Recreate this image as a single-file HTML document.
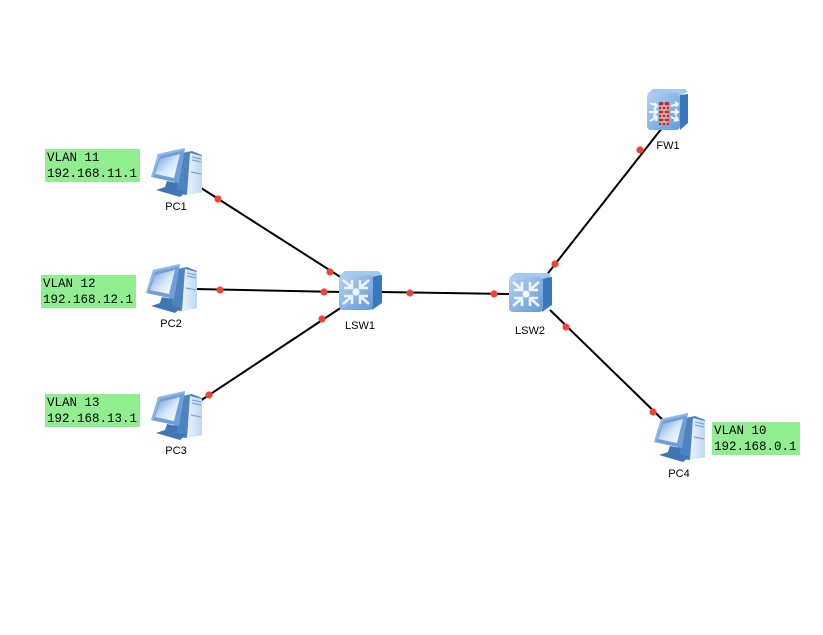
<!DOCTYPE html>
<html>
<head>
<meta charset="utf-8">
<style>
html,body{margin:0;padding:0;background:#fff;width:823px;height:635px;overflow:hidden}
svg{display:block}
.n{font:11px "Liberation Sans",sans-serif;fill:#000;text-anchor:middle}
.v{font:12.5px "Liberation Mono","DejaVu Sans Mono",monospace;fill:#000}
</style>
</head>
<body>
<svg width="823" height="635" viewBox="0 0 823 635" xmlns="http://www.w3.org/2000/svg">
<defs>
<linearGradient id="f" x1="0" y1="0" x2="1" y2="1"><stop offset="0" stop-color="#b4d2f2"/><stop offset="1" stop-color="#6299db"/></linearGradient>
<linearGradient id="sc" x1="0" y1="0" x2="1" y2="1"><stop offset="0" stop-color="#5f9ad8"/><stop offset=".55" stop-color="#d8e8f7"/><stop offset="1" stop-color="#f8fbfe"/></linearGradient>
<linearGradient id="tw" x1="0" y1="0" x2="1" y2="0"><stop offset="0" stop-color="#eaf3fc"/><stop offset="1" stop-color="#bfd8f1"/></linearGradient>
<symbol id="pc" viewBox="0 0 52 50" width="52" height="50" overflow="visible">
<path d="M27 7 L42 4 L52 8 L52 45 L35 48 L24 44Z" fill="#4f83bf"/>
<path d="M40 6 L52 9 L52 45 L37 48Z" fill="url(#tw)"/>
<path d="M42 10 L51 12 M42 13 L51 15 M41 25 L51 27" stroke="#7ea8d6" stroke-width="1.3" fill="none"/>
<path d="M8 7 L35 1 L29 36 L1 30Z" fill="#6f9fd8"/>
<path d="M8 7 L35 1 L35 3 L10 9 L3 30 L1 30Z" fill="#8fb8e4"/>
<path d="M10 12 L30 7 L24 31 L5 27Z" fill="url(#sc)"/>
<path d="M17 34 L27 36 L27 42 L36 45 L30 50 L6 43 L15 40Z" fill="#3f76b4"/>
</symbol>
<symbol id="sw" viewBox="0 0 43 39" width="43" height="39" overflow="visible">
<path d="M33 39 L43 32 L43 4 L33 5Z" fill="#3a78bd"/>
<path d="M0 5 L6 0 L39 0 L43 3 L34 6Z" fill="#a3c9ef"/>
<rect x="0" y="4" width="34" height="35" rx="4" fill="url(#f)"/>
<circle cx="17" cy="21" r="3.6" fill="#f4f9fe"/>
<g stroke="#eef5fc" stroke-width="2.6" fill="none">
<path d="M4 9 L12 16 M13 9 L13 17 L5 17"/>
<path d="M30 9 L22 16 M21 9 L21 17 L29 17"/>
<path d="M4 33 L12 26 M13 33 L13 25 L5 25"/>
<path d="M30 33 L22 26 M21 33 L21 25 L29 25"/>
</g>
</symbol>
<symbol id="fw" viewBox="0 0 41 41" width="41" height="41" overflow="visible">
<path d="M33 41 L41 34 L41 5 L33 6Z" fill="#3a78bd"/>
<path d="M0 5 L6 0 L38 0 L41 3 L33 6Z" fill="#a3c9ef"/>
<rect x="0" y="4" width="33" height="37" rx="4" fill="url(#f)"/>
<rect x="12" y="13" width="10" height="23" fill="#b8322d"/>
<path d="M12 17 H22 M12 21 H22 M12 25 H22 M12 29 H22 M12 33 H22 M17 13 V17 M15 17 V21 M19 17 V21 M17 21 V25 M15 25 V29 M19 25 V29 M17 29 V33 M15 33 V36 M19 33 V36" stroke="#f6ebe8" stroke-width=".9" fill="none"/>
<g stroke="#f2f7fc" stroke-width="2" fill="none">
<path d="M3 14 L10 17 M7 14 L10 17 L7 20"/>
<path d="M2 23 L10 23 M7 20 L10 23 L7 26"/>
<path d="M3 32 L10 28 M6 27 L10 28 L9 32"/>
<path d="M24 17 L31 15 M28 13 L31 15 L29 18"/>
<path d="M24 23 L31 23 M28 20 L31 23 L28 26"/>
<path d="M24 28 L31 31 M29 27 L31 31 L27 32"/>
</g>
</symbol>
</defs>

<g stroke="#000" stroke-width="2" fill="none">
<line x1="198" y1="186" x2="342" y2="278"/>
<line x1="195" y1="289" x2="342" y2="292"/>
<line x1="200" y1="401" x2="342" y2="307"/>
<line x1="380" y1="292" x2="512" y2="294"/>
<line x1="545" y1="277" x2="662" y2="128"/>
<line x1="550" y1="310" x2="667" y2="424"/>
</g>

<use href="#pc" x="150" y="147"/>
<use href="#pc" x="145" y="263"/>
<use href="#pc" x="150" y="390"/>
<use href="#pc" x="653" y="412"/>
<use href="#sw" x="339" y="271"/>
<use href="#sw" x="509" y="273"/>
<use href="#fw" x="647" y="89"/>

<g fill="#f44336">
<circle cx="218" cy="199" r="3.6"/>
<circle cx="330" cy="272" r="3.6"/>
<circle cx="220" cy="290" r="3.6"/>
<circle cx="324" cy="292" r="3.6"/>
<circle cx="209" cy="395" r="3.6"/>
<circle cx="322" cy="319" r="3.6"/>
<circle cx="410" cy="293" r="3.6"/>
<circle cx="494" cy="294" r="3.6"/>
<circle cx="555" cy="264" r="3.6"/>
<circle cx="640" cy="150" r="3.6"/>
<circle cx="566" cy="327" r="3.6"/>
<circle cx="653" cy="412" r="3.6"/>
</g>

<text class="n" x="176" y="210">PC1</text>
<text class="n" x="171" y="327">PC2</text>
<text class="n" x="176" y="454">PC3</text>
<text class="n" x="679" y="477">PC4</text>
<text class="n" x="360" y="329">LSW1</text>
<text class="n" x="530" y="334">LSW2</text>
<text class="n" x="668" y="149">FW1</text>

<rect x="45" y="149" width="95" height="33" fill="#90ee90"/>
<text class="v" x="47" y="161">VLAN 11</text>
<text class="v" x="47" y="177">192.168.11.1</text>
<rect x="41" y="275" width="95" height="33" fill="#90ee90"/>
<text class="v" x="43" y="287">VLAN 12</text>
<text class="v" x="43" y="303">192.168.12.1</text>
<rect x="45" y="394" width="95" height="33" fill="#90ee90"/>
<text class="v" x="47" y="406">VLAN 13</text>
<text class="v" x="47" y="422">192.168.13.1</text>
<rect x="712" y="422" width="88" height="33" fill="#90ee90"/>
<text class="v" x="714" y="434">VLAN 10</text>
<text class="v" x="714" y="450">192.168.0.1</text>
</svg>
</body>
</html>
